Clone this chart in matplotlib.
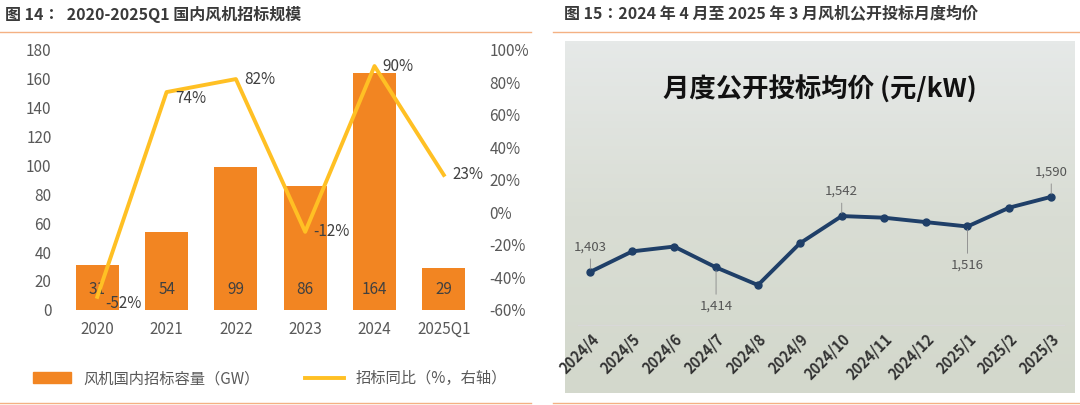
import matplotlib
matplotlib.use("Agg")
import matplotlib.pyplot as plt
import numpy as np
from matplotlib.ticker import FuncFormatter
from matplotlib.colors import LinearSegmentedColormap

plt.rcParams['font.family'] = ['Noto Sans CJK JP', 'Noto Sans CJK SC', 'DejaVu Sans']

years = ["2020", "2021", "2022", "2023", "2024", "2025Q1"]
capacity = [31, 54, 99, 86, 164, 29]
yoy = [-52, 74, 82, -12, 90, 23]

months = ["2024/4", "2024/5", "2024/6", "2024/7", "2024/8", "2024/9", "2024/10",
          "2024/11", "2024/12", "2025/1", "2025/2", "2025/3"]
price = [1403, 1454, 1466, 1414, 1370, 1474, 1542, 1538, 1527, 1516, 1563, 1590]
price_labeled = {0: "1,403", 3: "1,414", 6: "1,542", 9: "1,516", 11: "1,590"}

fig = plt.figure(figsize=(10.8, 4.05), dpi=100)
gray = "#595959"
orange = "#F28522"
yellow = "#FFC024"

fig.text(0.005, 0.965, "图 14：  2020-2025Q1 国内风机招标规模", fontsize=11.5, fontweight='bold', color="#3a3a3a", va='center')
fig.text(0.522, 0.965, "图 15：2024 年 4 月至 2025 年 3 月风机公开投标月度均价", fontsize=11.5, fontweight='bold', color="#3a3a3a", va='center')
for x0, x1 in [(0.0, 0.492), (0.512, 1.0)]:
    fig.add_artist(plt.Line2D([x0, x1], [0.92, 0.92], color="#F4B183", lw=1))
    fig.add_artist(plt.Line2D([x0, x1], [0.005, 0.005], color="#F4B183", lw=1))

# left chart
ax = fig.add_axes([0.058, 0.235, 0.385, 0.642])
x = np.arange(len(years))
ax.bar(x, capacity, width=0.62, color=orange)
ax.set_ylim(0, 180)
ax.set_yticks(range(0, 181, 20))
ax.set_xlim(-0.5, len(years) - 0.5)
ax.set_xticks(x)
ax.set_xticklabels(years)
for s in ax.spines.values():
    s.set_visible(False)
ax.tick_params(length=0, colors=gray, labelsize=11, pad=8)
for xi, v in zip(x, capacity):
    ax.text(xi, 14, str(v), ha='center', va='center', fontsize=11, color="#404040")
ax2 = ax.twinx()
ax2.plot(x, yoy, color=yellow, lw=2.8)
ax2.set_ylim(-60, 100)
ax2.set_yticks(range(-60, 101, 20))
ax2.yaxis.set_major_formatter(FuncFormatter(lambda v, p: f"{int(v)}%"))
for s in ax2.spines.values():
    s.set_visible(False)
ax2.tick_params(length=0, colors=gray, labelsize=11, pad=8)
for xi, v in zip(x, yoy):
    dy = -4 if xi in (0, 1) else 0
    ax2.text(xi + 0.12, v + dy, f"{v}%", ha='left', va='center', fontsize=11, color="#404040")
h1 = plt.Rectangle((0, 0), 1, 1, color=orange)
h2 = plt.Line2D([], [], color=yellow, lw=2.8)
fig.legend([h1, h2], ["风机国内招标容量（GW）", "招标同比（%，右轴）"], loc='center', bbox_to_anchor=(0.25, 0.065),
           ncol=2, frameon=False, fontsize=11, labelcolor=gray, columnspacing=3, handlelength=2.5)

# right chart background
bg = fig.add_axes([0.523, 0.03, 0.472, 0.87])
grad = np.linspace(0, 1, 100)[:, None]
cmap = LinearSegmentedColormap.from_list("bg", ["#e6e9e8", "#d9ddd4", "#d3d8cc"])
bg.imshow(grad, aspect='auto', cmap=cmap, extent=[0, 1, 0, 1])
bg.set_axis_off()
bg.text(0.5, 0.86, "月度公开投标均价 (元/kW)", ha='center', va='center', fontsize=19, fontweight='bold', color="#111111")

ax3 = fig.add_axes([0.535, 0.198, 0.45, 0.432])
ax3.patch.set_alpha(0)
xm = np.arange(len(months))
ax3.plot(xm, price, color="#1F3F68", lw=2.8, marker='o', ms=5)
ax3.set_ylim(1271, 1707)
ax3.set_xlim(-0.3, len(months) - 0.7)
ax3.set_xticks(xm)
ax3.set_xticklabels(months, rotation=45, ha='right', rotation_mode='anchor', fontsize=10.5, fontweight='bold', color="#333333")
ax3.set_yticks([])
for s in ax3.spines.values():
    s.set_visible(False)
ax3.spines['bottom'].set_visible(True)
ax3.spines['bottom'].set_color("#d8d8d8")
ax3.tick_params(length=0, pad=4)
for i, lab in price_labeled.items():
    off = -28 if i in (3, 9) else 18
    ax3.annotate(lab, (xm[i], price[i]), xytext=(0, off), textcoords='offset points', ha='center', va='center',
                 fontsize=9.5, color="#555555", arrowprops=dict(arrowstyle='-', color="#888888", lw=0.6))
fig.savefig("out.png", dpi=100)
